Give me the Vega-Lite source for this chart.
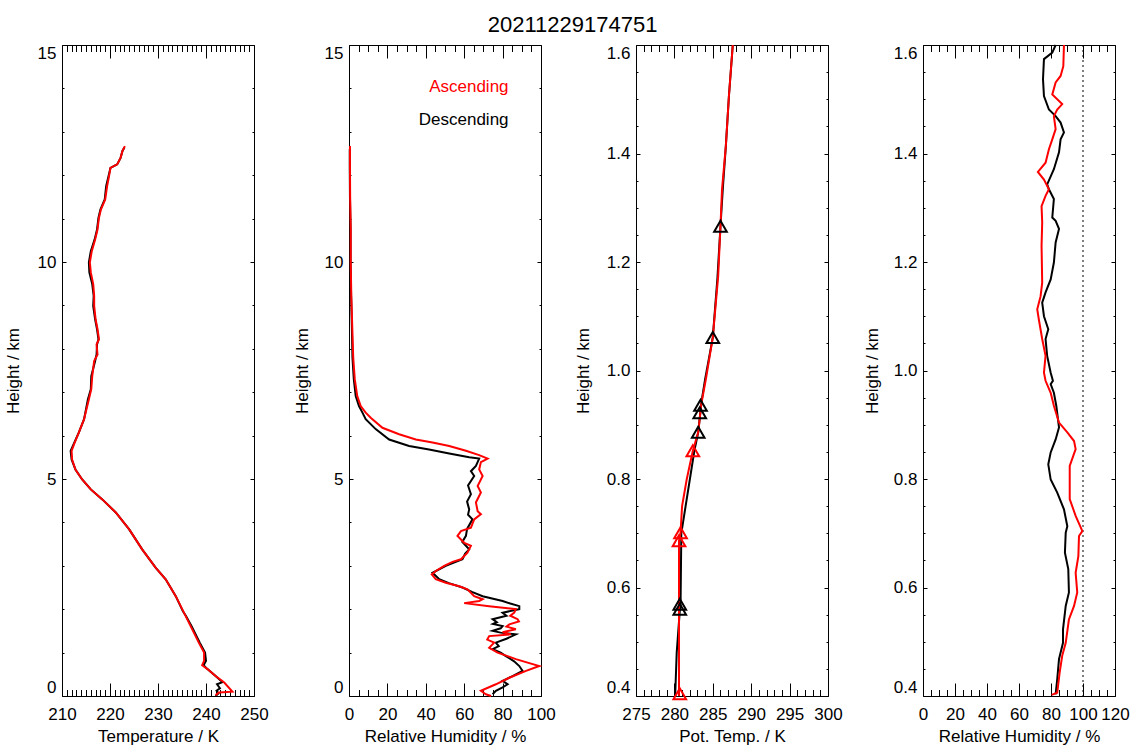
{
"$schema": "https://vega.github.io/schema/vega-lite/v6.json",
"padding": {"left": 4, "top": 14, "right": 5, "bottom": 5},
"title": {"text": "20211229174751", "fontSize": 22, "fontWeight": "normal", "color": "black", "font": "Liberation Sans", "anchor": "middle", "dx": 6},
"config": {
  "font": "Liberation Sans",
  "view": {"stroke": null},
  "axis": {"grid": false, "domainColor": "black", "tickColor": "black", "labelColor": "black", "titleColor": "black", "labelFontSize": 17, "titleFontSize": 17, "titleFontWeight": "normal", "labelFont": "Liberation Sans", "titleFont": "Liberation Sans", "labelOverlap": false, "tickWidth": 1, "domainWidth": 1},
  "axisX": {"labelFlush": false},
  "axisY": {"labelFlush": true}
},
"datasets": {
"temp": [
{"h":0.00,"T":242.0,"dir":"D"},{"h":0.06,"T":242.6,"dir":"D"},{"h":0.12,"T":242.2,"dir":"D"},{"h":0.18,"T":242.9,"dir":"D"},{"h":0.27,"T":242.3,"dir":"D"},{"h":0.32,"T":243.4,"dir":"D"},{"h":0.46,"T":242.0,"dir":"D"},{"h":0.62,"T":240.3,"dir":"D"},{"h":0.71,"T":239.5,"dir":"D"},{"h":0.81,"T":240.0,"dir":"D"},{"h":1.00,"T":239.8,"dir":"D"},{"h":1.23,"T":238.7,"dir":"D"},{"h":1.61,"T":237.0,"dir":"D"},{"h":1.85,"T":235.8,"dir":"D"},{"h":1.95,"T":235.2,"dir":"D"},{"h":2.30,"T":233.7,"dir":"D"},{"h":2.69,"T":231.6,"dir":"D"},{"h":2.96,"T":229.5,"dir":"D"},{"h":3.38,"T":226.7,"dir":"D"},{"h":3.84,"T":224.0,"dir":"D"},{"h":4.23,"T":221.2,"dir":"D"},{"h":4.53,"T":218.4,"dir":"D"},{"h":4.76,"T":216.0,"dir":"D"},{"h":4.99,"T":214.2,"dir":"D"},{"h":5.22,"T":212.8,"dir":"D"},{"h":5.45,"T":212.0,"dir":"D"},{"h":5.65,"T":211.8,"dir":"D"},{"h":5.80,"T":212.4,"dir":"D"},{"h":6.07,"T":213.5,"dir":"D"},{"h":6.38,"T":214.6,"dir":"D"},{"h":6.84,"T":215.4,"dir":"D"},{"h":7.07,"T":216.0,"dir":"D"},{"h":7.37,"T":216.1,"dir":"D"},{"h":7.72,"T":216.9,"dir":"D"},{"h":7.87,"T":217.2,"dir":"D"},{"h":8.10,"T":217.3,"dir":"D"},{"h":8.22,"T":217.6,"dir":"D"},{"h":8.45,"T":217.3,"dir":"D"},{"h":8.68,"T":216.9,"dir":"D"},{"h":8.99,"T":216.5,"dir":"D"},{"h":9.22,"T":216.6,"dir":"D"},{"h":9.49,"T":216.3,"dir":"D"},{"h":9.76,"T":215.7,"dir":"D"},{"h":9.99,"T":215.6,"dir":"D"},{"h":10.25,"T":216.0,"dir":"D"},{"h":10.52,"T":216.8,"dir":"D"},{"h":10.75,"T":217.3,"dir":"D"},{"h":11.02,"T":217.6,"dir":"D"},{"h":11.21,"T":218.0,"dir":"D"},{"h":11.44,"T":218.9,"dir":"D"},{"h":11.75,"T":219.2,"dir":"D"},{"h":11.98,"T":219.7,"dir":"D"},{"h":12.17,"T":220.1,"dir":"D"},{"h":12.25,"T":221.5,"dir":"D"},{"h":12.40,"T":222.2,"dir":"D"},{"h":12.56,"T":222.6,"dir":"D"},{"h":12.64,"T":223.0,"dir":"D"},
{"h":0.02,"T":242.0,"dir":"A"},{"h":0.08,"T":242.7,"dir":"A"},{"h":0.10,"T":245.5,"dir":"A"},{"h":0.31,"T":243.8,"dir":"A"},{"h":0.46,"T":242.0,"dir":"A"},{"h":0.62,"T":240.3,"dir":"A"},{"h":0.71,"T":239.2,"dir":"A"},{"h":0.81,"T":239.6,"dir":"A"},{"h":1.00,"T":239.6,"dir":"A"},{"h":1.23,"T":238.5,"dir":"A"},{"h":1.61,"T":236.8,"dir":"A"},{"h":1.92,"T":235.4,"dir":"A"},{"h":2.30,"T":233.7,"dir":"A"},{"h":2.69,"T":231.6,"dir":"A"},{"h":2.96,"T":229.5,"dir":"A"},{"h":3.38,"T":226.7,"dir":"A"},{"h":3.84,"T":224.0,"dir":"A"},{"h":4.23,"T":221.2,"dir":"A"},{"h":4.53,"T":218.4,"dir":"A"},{"h":4.76,"T":216.0,"dir":"A"},{"h":4.99,"T":214.2,"dir":"A"},{"h":5.22,"T":212.8,"dir":"A"},{"h":5.45,"T":212.1,"dir":"A"},{"h":5.65,"T":212.0,"dir":"A"},{"h":5.80,"T":212.5,"dir":"A"},{"h":6.07,"T":213.5,"dir":"A"},{"h":6.38,"T":214.6,"dir":"A"},{"h":6.84,"T":215.6,"dir":"A"},{"h":7.07,"T":216.1,"dir":"A"},{"h":7.37,"T":216.3,"dir":"A"},{"h":7.72,"T":216.7,"dir":"A"},{"h":7.87,"T":217.4,"dir":"A"},{"h":8.10,"T":217.2,"dir":"A"},{"h":8.22,"T":217.7,"dir":"A"},{"h":8.45,"T":217.4,"dir":"A"},{"h":8.68,"T":217.0,"dir":"A"},{"h":8.99,"T":216.7,"dir":"A"},{"h":9.22,"T":216.7,"dir":"A"},{"h":9.49,"T":216.5,"dir":"A"},{"h":9.76,"T":216.0,"dir":"A"},{"h":9.99,"T":215.8,"dir":"A"},{"h":10.25,"T":216.2,"dir":"A"},{"h":10.52,"T":216.9,"dir":"A"},{"h":10.75,"T":217.4,"dir":"A"},{"h":11.02,"T":217.7,"dir":"A"},{"h":11.21,"T":218.1,"dir":"A"},{"h":11.44,"T":219.0,"dir":"A"},{"h":11.75,"T":219.4,"dir":"A"},{"h":11.98,"T":219.8,"dir":"A"},{"h":12.17,"T":220.1,"dir":"A"},{"h":12.25,"T":221.5,"dir":"A"},{"h":12.40,"T":222.2,"dir":"A"},{"h":12.56,"T":222.6,"dir":"A"},{"h":12.67,"T":223.1,"dir":"A"}
],
"rh": [
{"h":0.04,"RH":74.8,"dir":"D"},{"h":0.12,"RH":76.5,"dir":"D"},{"h":0.20,"RH":80.0,"dir":"D"},{"h":0.27,"RH":82.6,"dir":"D"},{"h":0.35,"RH":80.0,"dir":"D"},{"h":0.46,"RH":85.2,"dir":"D"},{"h":0.58,"RH":90.4,"dir":"D"},{"h":0.69,"RH":88.7,"dir":"D"},{"h":0.80,"RH":86.0,"dir":"D"},{"h":0.92,"RH":81.7,"dir":"D"},{"h":1.00,"RH":79.0,"dir":"D"},{"h":1.08,"RH":74.8,"dir":"D"},{"h":1.15,"RH":78.0,"dir":"D"},{"h":1.23,"RH":76.5,"dir":"D"},{"h":1.32,"RH":82.0,"dir":"D"},{"h":1.42,"RH":86.9,"dir":"D"},{"h":1.46,"RH":79.0,"dir":"D"},{"h":1.50,"RH":74.8,"dir":"D"},{"h":1.56,"RH":79.0,"dir":"D"},{"h":1.61,"RH":80.0,"dir":"D"},{"h":1.66,"RH":75.0,"dir":"D"},{"h":1.70,"RH":77.0,"dir":"D"},{"h":1.77,"RH":74.8,"dir":"D"},{"h":1.85,"RH":82.0,"dir":"D"},{"h":1.92,"RH":80.0,"dir":"D"},{"h":2.00,"RH":88.7,"dir":"D"},{"h":2.07,"RH":88.7,"dir":"D"},{"h":2.13,"RH":84.0,"dir":"D"},{"h":2.19,"RH":80.0,"dir":"D"},{"h":2.30,"RH":69.6,"dir":"D"},{"h":2.40,"RH":64.0,"dir":"D"},{"h":2.50,"RH":59.1,"dir":"D"},{"h":2.60,"RH":52.0,"dir":"D"},{"h":2.69,"RH":47.0,"dir":"D"},{"h":2.84,"RH":43.5,"dir":"D"},{"h":3.00,"RH":50.4,"dir":"D"},{"h":3.15,"RH":59.1,"dir":"D"},{"h":3.28,"RH":60.5,"dir":"D"},{"h":3.38,"RH":62.6,"dir":"D"},{"h":3.55,"RH":59.0,"dir":"D"},{"h":3.69,"RH":60.9,"dir":"D"},{"h":3.85,"RH":61.5,"dir":"D"},{"h":4.07,"RH":64.3,"dir":"D"},{"h":4.18,"RH":62.0,"dir":"D"},{"h":4.30,"RH":62.6,"dir":"D"},{"h":4.48,"RH":61.5,"dir":"D"},{"h":4.65,"RH":63.5,"dir":"D"},{"h":4.85,"RH":62.0,"dir":"D"},{"h":5.07,"RH":65.2,"dir":"D"},{"h":5.18,"RH":63.5,"dir":"D"},{"h":5.30,"RH":66.1,"dir":"D"},{"h":5.47,"RH":67.8,"dir":"D"},{"h":5.50,"RH":62.6,"dir":"D"},{"h":5.59,"RH":52.2,"dir":"D"},{"h":5.68,"RH":41.7,"dir":"D"},{"h":5.76,"RH":31.3,"dir":"D"},{"h":5.91,"RH":20.9,"dir":"D"},{"h":6.15,"RH":13.9,"dir":"D"},{"h":6.38,"RH":8.7,"dir":"D"},{"h":6.53,"RH":7.0,"dir":"D"},{"h":6.68,"RH":5.2,"dir":"D"},{"h":6.91,"RH":3.5,"dir":"D"},{"h":7.30,"RH":2.5,"dir":"D"},{"h":7.80,"RH":1.8,"dir":"D"},{"h":8.50,"RH":1.5,"dir":"D"},{"h":9.22,"RH":1.1,"dir":"D"},{"h":10.0,"RH":0.8,"dir":"D"},{"h":10.75,"RH":0.8,"dir":"D"},{"h":11.5,"RH":0.5,"dir":"D"},{"h":12.2,"RH":0.4,"dir":"D"},{"h":12.6,"RH":0.4,"dir":"D"},
{"h":0.00,"RH":74.0,"dir":"A"},{"h":0.04,"RH":71.3,"dir":"A"},{"h":0.12,"RH":68.7,"dir":"A"},{"h":0.27,"RH":76.5,"dir":"A"},{"h":0.42,"RH":83.5,"dir":"A"},{"h":0.58,"RH":92.2,"dir":"A"},{"h":0.69,"RH":99.1,"dir":"A"},{"h":0.85,"RH":86.9,"dir":"A"},{"h":1.00,"RH":77.4,"dir":"A"},{"h":1.11,"RH":73.0,"dir":"A"},{"h":1.23,"RH":75.6,"dir":"A"},{"h":1.30,"RH":72.0,"dir":"A"},{"h":1.38,"RH":73.0,"dir":"A"},{"h":1.42,"RH":84.3,"dir":"A"},{"h":1.47,"RH":80.0,"dir":"A"},{"h":1.54,"RH":86.9,"dir":"A"},{"h":1.60,"RH":82.0,"dir":"A"},{"h":1.65,"RH":83.5,"dir":"A"},{"h":1.72,"RH":88.5,"dir":"A"},{"h":1.77,"RH":87.8,"dir":"A"},{"h":1.85,"RH":84.0,"dir":"A"},{"h":1.92,"RH":86.1,"dir":"A"},{"h":2.00,"RH":86.9,"dir":"A"},{"h":2.07,"RH":73.0,"dir":"A"},{"h":2.14,"RH":60.0,"dir":"A"},{"h":2.19,"RH":67.8,"dir":"A"},{"h":2.23,"RH":69.6,"dir":"A"},{"h":2.30,"RH":65.2,"dir":"A"},{"h":2.46,"RH":61.7,"dir":"A"},{"h":2.53,"RH":57.4,"dir":"A"},{"h":2.61,"RH":50.4,"dir":"A"},{"h":2.69,"RH":45.2,"dir":"A"},{"h":2.80,"RH":43.1,"dir":"A"},{"h":2.88,"RH":45.2,"dir":"A"},{"h":3.00,"RH":49.6,"dir":"A"},{"h":3.09,"RH":53.9,"dir":"A"},{"h":3.15,"RH":58.3,"dir":"A"},{"h":3.30,"RH":61.7,"dir":"A"},{"h":3.46,"RH":63.5,"dir":"A"},{"h":3.53,"RH":60.0,"dir":"A"},{"h":3.69,"RH":56.5,"dir":"A"},{"h":3.80,"RH":58.3,"dir":"A"},{"h":3.88,"RH":63.5,"dir":"A"},{"h":4.07,"RH":65.2,"dir":"A"},{"h":4.19,"RH":68.7,"dir":"A"},{"h":4.26,"RH":67.0,"dir":"A"},{"h":4.46,"RH":66.1,"dir":"A"},{"h":4.69,"RH":68.7,"dir":"A"},{"h":4.84,"RH":67.0,"dir":"A"},{"h":5.07,"RH":69.6,"dir":"A"},{"h":5.22,"RH":67.8,"dir":"A"},{"h":5.39,"RH":68.7,"dir":"A"},{"h":5.47,"RH":72.2,"dir":"A"},{"h":5.55,"RH":67.8,"dir":"A"},{"h":5.65,"RH":60.9,"dir":"A"},{"h":5.76,"RH":52.2,"dir":"A"},{"h":5.84,"RH":43.5,"dir":"A"},{"h":5.91,"RH":34.8,"dir":"A"},{"h":6.03,"RH":26.1,"dir":"A"},{"h":6.18,"RH":17.4,"dir":"A"},{"h":6.41,"RH":11.3,"dir":"A"},{"h":6.53,"RH":8.7,"dir":"A"},{"h":6.68,"RH":6.1,"dir":"A"},{"h":6.91,"RH":4.3,"dir":"A"},{"h":7.30,"RH":3.0,"dir":"A"},{"h":7.80,"RH":2.2,"dir":"A"},{"h":8.50,"RH":1.7,"dir":"A"},{"h":9.22,"RH":1.2,"dir":"A"},{"h":10.0,"RH":0.9,"dir":"A"},{"h":10.75,"RH":0.9,"dir":"A"},{"h":11.5,"RH":0.6,"dir":"A"},{"h":12.2,"RH":0.5,"dir":"A"},{"h":12.67,"RH":0.5,"dir":"A"}
],
"leg": [
{"h":13.92,"RH":83.1,"dir":"A","label":"Ascending"},
{"h":13.16,"RH":83.1,"dir":"D","label":"Descending"}
],
"th": [
{"h":0.40,"th":280.1,"dir":"D"},{"h":0.48,"th":280.3,"dir":"D"},{"h":0.557,"th":280.7,"dir":"D"},{"h":0.566,"th":280.8,"dir":"D"},{"h":0.70,"th":280.9,"dir":"D"},{"h":0.852,"th":282.6,"dir":"D"},{"h":0.886,"th":283.1,"dir":"D"},{"h":0.925,"th":283.4,"dir":"D"},{"h":0.94,"th":283.5,"dir":"D"},{"h":0.984,"th":284.0,"dir":"D"},{"h":1.061,"th":285.0,"dir":"D"},{"h":1.17,"th":285.6,"dir":"D"},{"h":1.266,"th":286.0,"dir":"D"},{"h":1.334,"th":286.3,"dir":"D"},{"h":1.414,"th":286.7,"dir":"D"},{"h":1.506,"th":287.1,"dir":"D"},{"h":1.60,"th":287.6,"dir":"D"},
{"h":0.40,"th":280.6,"dir":"A"},{"h":0.55,"th":280.6,"dir":"A"},{"h":0.686,"th":280.6,"dir":"A"},{"h":0.701,"th":280.8,"dir":"A"},{"h":0.75,"th":281.0,"dir":"A"},{"h":0.799,"th":281.6,"dir":"A"},{"h":0.852,"th":282.4,"dir":"A"},{"h":0.886,"th":283.1,"dir":"A"},{"h":0.938,"th":283.5,"dir":"A"},{"h":0.984,"th":284.1,"dir":"A"},{"h":1.061,"th":285.0,"dir":"A"},{"h":1.174,"th":285.7,"dir":"A"},{"h":1.266,"th":286.0,"dir":"A"},{"h":1.334,"th":286.2,"dir":"A"},{"h":1.414,"th":286.7,"dir":"A"},{"h":1.506,"th":287.1,"dir":"A"},{"h":1.60,"th":287.6,"dir":"A"}
],
"tri": [
{"h":1.266,"th":286.0,"dir":"D"},{"h":1.061,"th":285.0,"dir":"D"},{"h":0.936,"th":283.4,"dir":"D"},{"h":0.922,"th":283.3,"dir":"D"},{"h":0.886,"th":283.1,"dir":"D"},{"h":0.569,"th":280.7,"dir":"D"},{"h":0.560,"th":280.7,"dir":"D"},
{"h":0.852,"th":282.4,"dir":"A"},{"h":0.701,"th":280.8,"dir":"A"},{"h":0.686,"th":280.6,"dir":"A"},{"h":0.404,"th":280.7,"dir":"A"}
],
"rl": [
{"h":0.403,"RH":82.9,"dir":"D"},{"h":0.431,"RH":83.9,"dir":"D"},{"h":0.468,"RH":85.0,"dir":"D"},{"h":0.498,"RH":87.5,"dir":"D"},{"h":0.523,"RH":87.5,"dir":"D"},{"h":0.566,"RH":89.2,"dir":"D"},{"h":0.591,"RH":91.2,"dir":"D"},{"h":0.634,"RH":90.8,"dir":"D"},{"h":0.664,"RH":88.7,"dir":"D"},{"h":0.701,"RH":89.2,"dir":"D"},{"h":0.713,"RH":90.2,"dir":"D"},{"h":0.744,"RH":88.1,"dir":"D"},{"h":0.775,"RH":83.9,"dir":"D"},{"h":0.799,"RH":79.8,"dir":"D"},{"h":0.827,"RH":78.3,"dir":"D"},{"h":0.849,"RH":79.8,"dir":"D"},{"h":0.873,"RH":82.9,"dir":"D"},{"h":0.895,"RH":85.0,"dir":"D"},{"h":0.935,"RH":83.3,"dir":"D"},{"h":0.959,"RH":81.8,"dir":"D"},{"h":0.975,"RH":79.8,"dir":"D"},{"h":0.981,"RH":81.2,"dir":"D"},{"h":0.996,"RH":79.8,"dir":"D"},{"h":1.027,"RH":77.6,"dir":"D"},{"h":1.058,"RH":76.6,"dir":"D"},{"h":1.076,"RH":78.3,"dir":"D"},{"h":1.100,"RH":75.6,"dir":"D"},{"h":1.125,"RH":74.5,"dir":"D"},{"h":1.144,"RH":76.6,"dir":"D"},{"h":1.168,"RH":79.8,"dir":"D"},{"h":1.199,"RH":81.8,"dir":"D"},{"h":1.236,"RH":82.9,"dir":"D"},{"h":1.261,"RH":85.0,"dir":"D"},{"h":1.276,"RH":82.9,"dir":"D"},{"h":1.282,"RH":80.8,"dir":"D"},{"h":1.316,"RH":81.8,"dir":"D"},{"h":1.334,"RH":78.7,"dir":"D"},{"h":1.343,"RH":77.6,"dir":"D"},{"h":1.371,"RH":81.8,"dir":"D"},{"h":1.402,"RH":85.0,"dir":"D"},{"h":1.426,"RH":86.0,"dir":"D"},{"h":1.439,"RH":88.1,"dir":"D"},{"h":1.457,"RH":86.0,"dir":"D"},{"h":1.469,"RH":82.9,"dir":"D"},{"h":1.481,"RH":78.7,"dir":"D"},{"h":1.506,"RH":75.6,"dir":"D"},{"h":1.537,"RH":75.0,"dir":"D"},{"h":1.574,"RH":75.6,"dir":"D"},{"h":1.586,"RH":80.8,"dir":"D"},{"h":1.600,"RH":82.9,"dir":"D"},
{"h":0.402,"RH":80.4,"dir":"A"},{"h":0.406,"RH":83.9,"dir":"A"},{"h":0.443,"RH":85.4,"dir":"A"},{"h":0.474,"RH":87.0,"dir":"A"},{"h":0.498,"RH":89.2,"dir":"A"},{"h":0.541,"RH":91.2,"dir":"A"},{"h":0.566,"RH":94.4,"dir":"A"},{"h":0.591,"RH":96.4,"dir":"A"},{"h":0.627,"RH":95.4,"dir":"A"},{"h":0.658,"RH":97.1,"dir":"A"},{"h":0.695,"RH":97.5,"dir":"A"},{"h":0.704,"RH":99.6,"dir":"A"},{"h":0.732,"RH":95.4,"dir":"A"},{"h":0.763,"RH":91.7,"dir":"A"},{"h":0.824,"RH":91.7,"dir":"A"},{"h":0.855,"RH":95.4,"dir":"A"},{"h":0.870,"RH":94.4,"dir":"A"},{"h":0.886,"RH":90.2,"dir":"A"},{"h":0.904,"RH":85.0,"dir":"A"},{"h":0.935,"RH":81.8,"dir":"A"},{"h":0.959,"RH":79.8,"dir":"A"},{"h":0.981,"RH":76.6,"dir":"A"},{"h":0.996,"RH":75.6,"dir":"A"},{"h":1.027,"RH":76.6,"dir":"A"},{"h":1.058,"RH":74.5,"dir":"A"},{"h":1.094,"RH":72.4,"dir":"A"},{"h":1.113,"RH":71.4,"dir":"A"},{"h":1.137,"RH":73.5,"dir":"A"},{"h":1.162,"RH":74.5,"dir":"A"},{"h":1.230,"RH":74.1,"dir":"A"},{"h":1.273,"RH":74.5,"dir":"A"},{"h":1.303,"RH":74.1,"dir":"A"},{"h":1.322,"RH":76.6,"dir":"A"},{"h":1.334,"RH":78.7,"dir":"A"},{"h":1.352,"RH":75.6,"dir":"A"},{"h":1.366,"RH":71.8,"dir":"A"},{"h":1.383,"RH":76.6,"dir":"A"},{"h":1.408,"RH":78.7,"dir":"A"},{"h":1.426,"RH":80.8,"dir":"A"},{"h":1.445,"RH":82.9,"dir":"A"},{"h":1.469,"RH":81.8,"dir":"A"},{"h":1.481,"RH":83.9,"dir":"A"},{"h":1.491,"RH":87.0,"dir":"A"},{"h":1.509,"RH":80.8,"dir":"A"},{"h":1.531,"RH":82.9,"dir":"A"},{"h":1.543,"RH":86.0,"dir":"A"},{"h":1.561,"RH":87.7,"dir":"A"},{"h":1.600,"RH":88.1,"dir":"A"}
],
"ref": [{"RH":100}]
},
"hconcat": [
{
 "width": 192, "height": 651,
 "data": {"name": "temp"},
 "layer": [
  {"mark": {"type": "line", "strokeWidth": 2},
   "encoding": {
    "x": {"field": "T", "type": "quantitative", "scale": {"domain": [210, 250], "zero": false, "nice": false},
      "axis": {"orient": "bottom", "title": "Temperature / K", "values": [210,211,212,213,214,215,216,217,218,219,220,221,222,223,224,225,226,227,228,229,230,231,232,233,234,235,236,237,238,239,240,241,242,243,244,245,246,247,248,249,250],
        "tickSize": {"condition": {"test": "datum.value % 10 === 0", "value": -13}, "value": -6.5},
        "labelExpr": "datum.value % 10 === 0 ? datum.label : ''", "labelPadding": 23, "titlePadding": 0}},
    "y": {"field": "h", "type": "quantitative", "scale": {"domain": [0, 15], "zero": false, "nice": false},
      "axis": {"orient": "left", "title": "Height / km", "values": [0,1,2,3,4,5,6,7,8,9,10,11,12,13,14,15], "format": "d",
        "tickSize": {"condition": {"test": "datum.value % 5 === 0", "value": -4}, "value": -2},
        "labelExpr": "datum.value % 5 === 0 ? datum.label : ''", "labelPadding": 10, "minExtent": 30, "maxExtent": 30, "titlePadding": 10}},
    "color": {"field": "dir", "type": "nominal", "scale": {"domain": ["A", "D"], "range": ["#ff0000", "#000000"]}, "legend": null},
    "order": {"field": "h", "type": "quantitative"}
   }},
  {"mark": {"type": "point", "opacity": 0},
   "encoding": {
    "x": {"field": "T", "type": "quantitative", "axis": {"orient": "top", "title": null, "labels": false, "values": [210,211,212,213,214,215,216,217,218,219,220,221,222,223,224,225,226,227,228,229,230,231,232,233,234,235,236,237,238,239,240,241,242,243,244,245,246,247,248,249,250],
        "tickSize": {"condition": {"test": "datum.value % 10 === 0", "value": -13}, "value": -6.5}}},
    "y": {"field": "h", "type": "quantitative", "axis": {"orient": "right", "title": null, "labels": false, "values": [0,1,2,3,4,5,6,7,8,9,10,11,12,13,14,15], "minExtent": 0, "maxExtent": 0,
        "tickSize": {"condition": {"test": "datum.value % 5 === 0", "value": -4}, "value": -2}}}
   }}
 ],
 "resolve": {"axis": {"x": "independent", "y": "independent"}}
},
{
 "width": 192, "height": 651,
 "layer": [
  {"data": {"name": "rh"}, "mark": {"type": "line", "strokeWidth": 2},
   "encoding": {
    "x": {"field": "RH", "type": "quantitative", "scale": {"domain": [0, 100], "zero": false, "nice": false},
      "axis": {"orient": "bottom", "title": "Relative Humidity / %", "values": [0,5,10,15,20,25,30,35,40,45,50,55,60,65,70,75,80,85,90,95,100],
        "tickSize": {"condition": {"test": "datum.value % 20 === 0", "value": -13}, "value": -6.5},
        "labelExpr": "datum.value % 20 === 0 ? datum.label : ''", "labelPadding": 23, "titlePadding": 0}},
    "y": {"field": "h", "type": "quantitative", "scale": {"domain": [0, 15], "zero": false, "nice": false},
      "axis": {"orient": "left", "title": "Height / km", "values": [0,1,2,3,4,5,6,7,8,9,10,11,12,13,14,15], "format": "d",
        "tickSize": {"condition": {"test": "datum.value % 5 === 0", "value": -4}, "value": -2},
        "labelExpr": "datum.value % 5 === 0 ? datum.label : ''", "labelPadding": 10, "minExtent": 30, "maxExtent": 30, "titlePadding": 8}},
    "color": {"field": "dir", "type": "nominal", "scale": {"domain": ["A", "D"], "range": ["#ff0000", "#000000"]}, "legend": null},
    "order": {"field": "h", "type": "quantitative"}
   }},
  {"data": {"name": "leg"}, "mark": {"type": "text", "align": "right", "baseline": "alphabetic", "fontSize": 17, "font": "Liberation Sans"},
   "encoding": {
    "x": {"field": "RH", "type": "quantitative", "axis": null},
    "y": {"field": "h", "type": "quantitative", "axis": null},
    "text": {"field": "label"},
    "color": {"field": "dir", "type": "nominal", "scale": {"domain": ["A", "D"], "range": ["#ff0000", "#000000"]}, "legend": null}
   }},
  {"data": {"name": "rh"}, "mark": {"type": "point", "opacity": 0},
   "encoding": {
    "x": {"field": "RH", "type": "quantitative", "axis": {"orient": "top", "title": null, "labels": false, "values": [0,5,10,15,20,25,30,35,40,45,50,55,60,65,70,75,80,85,90,95,100],
        "tickSize": {"condition": {"test": "datum.value % 20 === 0", "value": -13}, "value": -6.5}}},
    "y": {"field": "h", "type": "quantitative", "axis": {"orient": "right", "title": null, "labels": false, "values": [0,1,2,3,4,5,6,7,8,9,10,11,12,13,14,15], "minExtent": 0, "maxExtent": 0,
        "tickSize": {"condition": {"test": "datum.value % 5 === 0", "value": -4}, "value": -2}}}
   }}
 ],
 "resolve": {"axis": {"x": "independent", "y": "independent"}}
},
{
 "width": 192, "height": 651,
 "layer": [
  {"data": {"name": "th"}, "mark": {"type": "line", "strokeWidth": 2},
   "encoding": {
    "x": {"field": "th", "type": "quantitative", "scale": {"domain": [275, 300], "zero": false, "nice": false},
      "axis": {"orient": "bottom", "title": "Pot. Temp. / K", "values": [275,276,277,278,279,280,281,282,283,284,285,286,287,288,289,290,291,292,293,294,295,296,297,298,299,300],
        "tickSize": {"condition": {"test": "datum.value % 5 === 0", "value": -13}, "value": -6.5},
        "labelExpr": "datum.value % 5 === 0 ? datum.label : ''", "labelPadding": 23, "titlePadding": 0}},
    "y": {"field": "h", "type": "quantitative", "scale": {"domain": [0.4, 1.6], "zero": false, "nice": false},
      "axis": {"orient": "left", "title": "Height / km", "values": [0.4,0.45,0.5,0.55,0.6,0.65,0.7,0.75,0.8,0.85,0.9,0.95,1.0,1.05,1.1,1.15,1.2,1.25,1.3,1.35,1.4,1.45,1.5,1.55,1.6], "format": ".1f",
        "tickSize": {"condition": {"test": "abs(datum.value/0.2 - round(datum.value/0.2)) < 0.001", "value": -4}, "value": -2},
        "labelExpr": "abs(datum.value/0.2 - round(datum.value/0.2)) < 0.001 ? datum.label : ''", "labelPadding": 10, "minExtent": 30, "maxExtent": 30, "titlePadding": 14}},
    "color": {"field": "dir", "type": "nominal", "scale": {"domain": ["A", "D"], "range": ["#ff0000", "#000000"]}, "legend": null},
    "order": {"field": "h", "type": "quantitative"}
   }},
  {"data": {"name": "tri"}, "mark": {"type": "point", "shape": "triangle-up", "filled": false, "size": 160, "strokeWidth": 2, "opacity": 1},
   "encoding": {
    "x": {"field": "th", "type": "quantitative", "axis": null},
    "y": {"field": "h", "type": "quantitative", "axis": null},
    "color": {"field": "dir", "type": "nominal", "scale": {"domain": ["A", "D"], "range": ["#ff0000", "#000000"]}, "legend": null}
   }},
  {"data": {"name": "th"}, "mark": {"type": "point", "opacity": 0},
   "encoding": {
    "x": {"field": "th", "type": "quantitative", "axis": {"orient": "top", "title": null, "labels": false, "values": [275,276,277,278,279,280,281,282,283,284,285,286,287,288,289,290,291,292,293,294,295,296,297,298,299,300],
        "tickSize": {"condition": {"test": "datum.value % 5 === 0", "value": -13}, "value": -6.5}}},
    "y": {"field": "h", "type": "quantitative", "axis": {"orient": "right", "title": null, "labels": false, "values": [0.4,0.45,0.5,0.55,0.6,0.65,0.7,0.75,0.8,0.85,0.9,0.95,1.0,1.05,1.1,1.15,1.2,1.25,1.3,1.35,1.4,1.45,1.5,1.55,1.6], "minExtent": 0, "maxExtent": 0,
        "tickSize": {"condition": {"test": "abs(datum.value/0.2 - round(datum.value/0.2)) < 0.001", "value": -4}, "value": -2}}}
   }}
 ],
 "resolve": {"axis": {"x": "independent", "y": "independent"}}
},
{
 "width": 192, "height": 651,
 "layer": [
  {"data": {"name": "ref"}, "mark": {"type": "rule", "color": "black", "strokeWidth": 1, "strokeDash": [2, 3]},
   "encoding": {"x": {"field": "RH", "type": "quantitative", "axis": null}}},
  {"data": {"name": "rl"}, "mark": {"type": "line", "strokeWidth": 2},
   "encoding": {
    "x": {"field": "RH", "type": "quantitative", "scale": {"domain": [0, 120], "zero": false, "nice": false},
      "axis": {"orient": "bottom", "title": "Relative Humidity / %", "values": [0,5,10,15,20,25,30,35,40,45,50,55,60,65,70,75,80,85,90,95,100,105,110,115,120],
        "tickSize": {"condition": {"test": "datum.value % 20 === 0", "value": -13}, "value": -6.5},
        "labelExpr": "datum.value % 20 === 0 ? datum.label : ''", "labelPadding": 23, "titlePadding": 0}},
    "y": {"field": "h", "type": "quantitative", "scale": {"domain": [0.4, 1.6], "zero": false, "nice": false},
      "axis": {"orient": "left", "title": "Height / km", "values": [0.4,0.45,0.5,0.55,0.6,0.65,0.7,0.75,0.8,0.85,0.9,0.95,1.0,1.05,1.1,1.15,1.2,1.25,1.3,1.35,1.4,1.45,1.5,1.55,1.6], "format": ".1f",
        "tickSize": {"condition": {"test": "abs(datum.value/0.2 - round(datum.value/0.2)) < 0.001", "value": -4}, "value": -2},
        "labelExpr": "abs(datum.value/0.2 - round(datum.value/0.2)) < 0.001 ? datum.label : ''", "labelPadding": 10, "minExtent": 30, "maxExtent": 30, "titlePadding": 12}},
    "color": {"field": "dir", "type": "nominal", "scale": {"domain": ["A", "D"], "range": ["#ff0000", "#000000"]}, "legend": null},
    "order": {"field": "h", "type": "quantitative"}
   }},
  {"data": {"name": "rl"}, "mark": {"type": "point", "opacity": 0},
   "encoding": {
    "x": {"field": "RH", "type": "quantitative", "axis": {"orient": "top", "title": null, "labels": false, "values": [0,5,10,15,20,25,30,35,40,45,50,55,60,65,70,75,80,85,90,95,100,105,110,115,120],
        "tickSize": {"condition": {"test": "datum.value % 20 === 0", "value": -13}, "value": -6.5}}},
    "y": {"field": "h", "type": "quantitative", "axis": {"orient": "right", "title": null, "labels": false, "values": [0.4,0.45,0.5,0.55,0.6,0.65,0.7,0.75,0.8,0.85,0.9,0.95,1.0,1.05,1.1,1.15,1.2,1.25,1.3,1.35,1.4,1.45,1.5,1.55,1.6], "minExtent": 0, "maxExtent": 0,
        "tickSize": {"condition": {"test": "abs(datum.value/0.2 - round(datum.value/0.2)) < 0.001", "value": -4}, "value": -2}}}
   }}
 ],
 "resolve": {"axis": {"x": "independent", "y": "independent"}}
}
],
"spacing": 95,
"bounds": "flush"
}
